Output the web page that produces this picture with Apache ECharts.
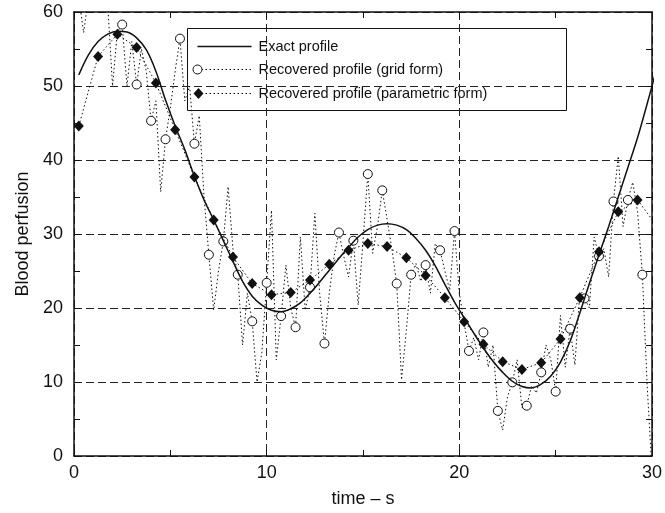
<!DOCTYPE html>
<html>
<head>
<meta charset="utf-8">
<script src="https://cdn.jsdelivr.net/npm/echarts@6/dist/echarts.min.js"></script>
<style>html,body{margin:0;padding:0;background:#fff;}#c{width:665px;height:513px;}</style>
</head>
<body>
<div id="c"></div>
<script>
// ---- data ----
const xTicks = [0, 10, 20, 30];
const yTicks = [0, 10, 20, 30, 40, 50, 60];

// Exact profile, sampled every 0.5 s starting at 0.25 s
const exactStart = 0.25, exactStep = 0.5;
const exactY = [51.5,54.2,56.0,57.0,57.4,57.3,56.5,54.9,52.0,48.1,
  44.6,41.4,37.8,34.6,31.9,29.1,26.3,23.6,21.6,20.4,
  19.7,19.5,19.9,20.7,22.0,23.5,25.1,26.7,28.2,29.6,
  30.6,31.2,31.4,31.2,30.6,29.4,27.8,25.7,23.2,20.8,
  18.7,16.6,14.6,12.8,11.3,10.1,9.4,9.2,9.7,10.8,
  12.7,15.5,19.3,23.3,27.2,31.0,35.0,39.0,43.0,47.6,52.4];

// Recovered profile (grid form), every 0.25 s from 0.25 s; marker on every 3rd point
const gridStart = 0.25, gridStep = 0.25, gridMarkEvery = 3;
const gridY = [62,57.2,62, 63,64,62, 61,50.0,57.3, 58.3,50.0,56,
  50.2,55,52, 45.3,48,35.7, 42.8,47,52, 56.4,48,50,
  42.2,46,35, 27.2,19.7,25, 29.0,36.4,28, 24.5,15,22,
  18.2,10,14, 23.4,33.2,13, 18.9,25.8,20, 17.4,29.6,19.7,
  22.8,32.8,22, 15.2,22,27, 30.2,27,24.2, 29.1,20.4,29,
  38.1,27.4,31, 35.9,32,28, 23.3,10.3,17, 24.5,26,23.6,
  25.8,22,28.7, 27.8,25,22.4, 30.4,22,18, 14.2,16,13,
  16.7,12,15, 6.1,3.5,8, 9.95,13,6.5, 6.8,9.5,8.5,
  11.3,15,13, 8.7,19,12, 17.2,12.3,22, 21.3,20,29.6,
  27.0,28,24.2, 34.4,40.5,31, 34.6,37,33, 24.5,9.5,-2];

// Recovered profile (parametric form), every 1 s from 0.25 s
const paramStart = 0.25, paramStep = 1;
const paramY = [44.6,54.0,57.0,55.2,50.4,44.1,37.7,31.9,26.9,23.3,
  21.8,22.1,23.8,25.9,27.8,28.7,28.3,26.8,24.4,21.4,
  18.15,15.1,12.75,11.7,12.6,15.8,21.4,27.6,33.0,34.6,31.1];

const legendNames = ['Exact profile','Recovered profile (grid form)','Recovered profile (parametric form)'];

// ---- build ----
const exactData = exactY.map((v,i)=>[+(exactStart+i*exactStep).toFixed(4), v]);
const gridData = gridY.map((v,i)=>{
  const t = +(gridStart+i*gridStep).toFixed(4);
  return i % gridMarkEvery === 0 ? {value:[t,v]} : {value:[t,v], symbol:'none'};
});
const paramData = paramY.map((v,i)=>[+(paramStart+i*paramStep).toFixed(4), v]);

const FONT = 'Liberation Sans, Arial, Helvetica, sans-serif';
const INK = '#111';

function axisCommon(main){
  return {
    axisLine:{show:true,onZero:false,lineStyle:{color:INK,width:1.5}},
    axisTick:{show:true,inside:true,length:6,lineStyle:{color:INK,width:1}},
    minorTick:{show:true,splitNumber:2,length:6,lineStyle:{color:INK,width:1}},
    splitLine:{show:main,lineStyle:{color:'#222',width:1,type:[8,4]}},
    minorSplitLine:{show:false}
  };
}

const chart = echarts.init(document.getElementById('c'), null, {renderer:'canvas'});
const L = 74, R = 8.5, T = 12, B = 57;
const LEG_FS = 14.5;
chart.setOption({
  animation:false,
  backgroundColor:'#fff',
  textStyle:{fontFamily:FONT},
  grid:{left:L,right:R,top:T,bottom:B,containLabel:false},
  xAxis:[
    Object.assign({type:'value',position:'bottom',min:xTicks[0],max:xTicks[xTicks.length-1],interval:10,
      name:'time \u2013 s',nameLocation:'middle',nameGap:34,
      nameTextStyle:{fontSize:18,color:INK,fontFamily:FONT},
      axisLabel:{fontSize:18,color:INK,margin:8,fontFamily:FONT}},axisCommon(true)),
    Object.assign({type:'value',position:'top',min:xTicks[0],max:xTicks[xTicks.length-1],interval:10,
      axisLabel:{show:false}},axisCommon(false))
  ],
  yAxis:[
    Object.assign({type:'value',position:'left',min:yTicks[0],max:yTicks[yTicks.length-1],interval:10,
      name:'Blood perfusion',nameLocation:'middle',nameGap:42,
      nameTextStyle:{fontSize:18,color:INK,fontFamily:FONT},
      axisLabel:{fontSize:18,color:INK,margin:11,fontFamily:FONT}},axisCommon(true)),
    Object.assign({type:'value',position:'right',min:yTicks[0],max:yTicks[yTicks.length-1],interval:10,
      axisLabel:{show:false}},axisCommon(false))
  ],
  series:[
    {name:legendNames[1],type:'line',data:gridData,clip:true,
      symbol:'circle',symbolSize:9,showSymbol:true,showAllSymbol:true,
      itemStyle:{color:'#fff',borderColor:INK,borderWidth:1},
      lineStyle:{color:INK,width:1,type:[1.5,2.5]},z:2},
    {name:legendNames[0],type:'line',data:exactData,clip:true,smooth:0.35,
      symbol:'none',lineStyle:{color:INK,width:1.5},z:3},
    {name:legendNames[2],type:'line',data:paramData,clip:true,
      symbol:'diamond',symbolSize:[10,11],showSymbol:true,
      itemStyle:{color:INK,borderColor:INK,borderWidth:0},
      lineStyle:{color:INK,width:1,type:[1.5,2.5]},z:4}
  ],
  graphic:[
    {type:'group',left:187,top:28,z:100,children:[
      {type:'rect',shape:{x:0,y:0,width:379,height:82},style:{fill:'#fff',stroke:INK,lineWidth:1}},
      {type:'line',shape:{x1:10,y1:18,x2:64,y2:18},style:{stroke:INK,lineWidth:1.5}},
      {type:'text',x:71,y:18,style:{text:legendNames[0],fontSize:LEG_FS,fontFamily:FONT,fill:INK,verticalAlign:'middle'}},
      {type:'line',shape:{x1:10,y1:41,x2:64,y2:41},style:{stroke:INK,lineWidth:1,lineDash:[1.5,2.5]}},
      {type:'circle',shape:{cx:10,cy:41,r:4.5},style:{fill:'#fff',stroke:INK,lineWidth:1}},
      {type:'text',x:71,y:41,style:{text:legendNames[1],fontSize:LEG_FS,fontFamily:FONT,fill:INK,verticalAlign:'middle'}},
      {type:'line',shape:{x1:10,y1:65,x2:64,y2:65},style:{stroke:INK,lineWidth:1,lineDash:[1.5,2.5]}},
      {type:'polygon',shape:{points:[[11,59.5],[16,65],[11,70.5],[6,65]]},style:{fill:INK}},
      {type:'text',x:71,y:65,style:{text:legendNames[2],fontSize:LEG_FS,fontFamily:FONT,fill:INK,verticalAlign:'middle'}}
    ]}
  ]
});
</script>
</body>
</html>
